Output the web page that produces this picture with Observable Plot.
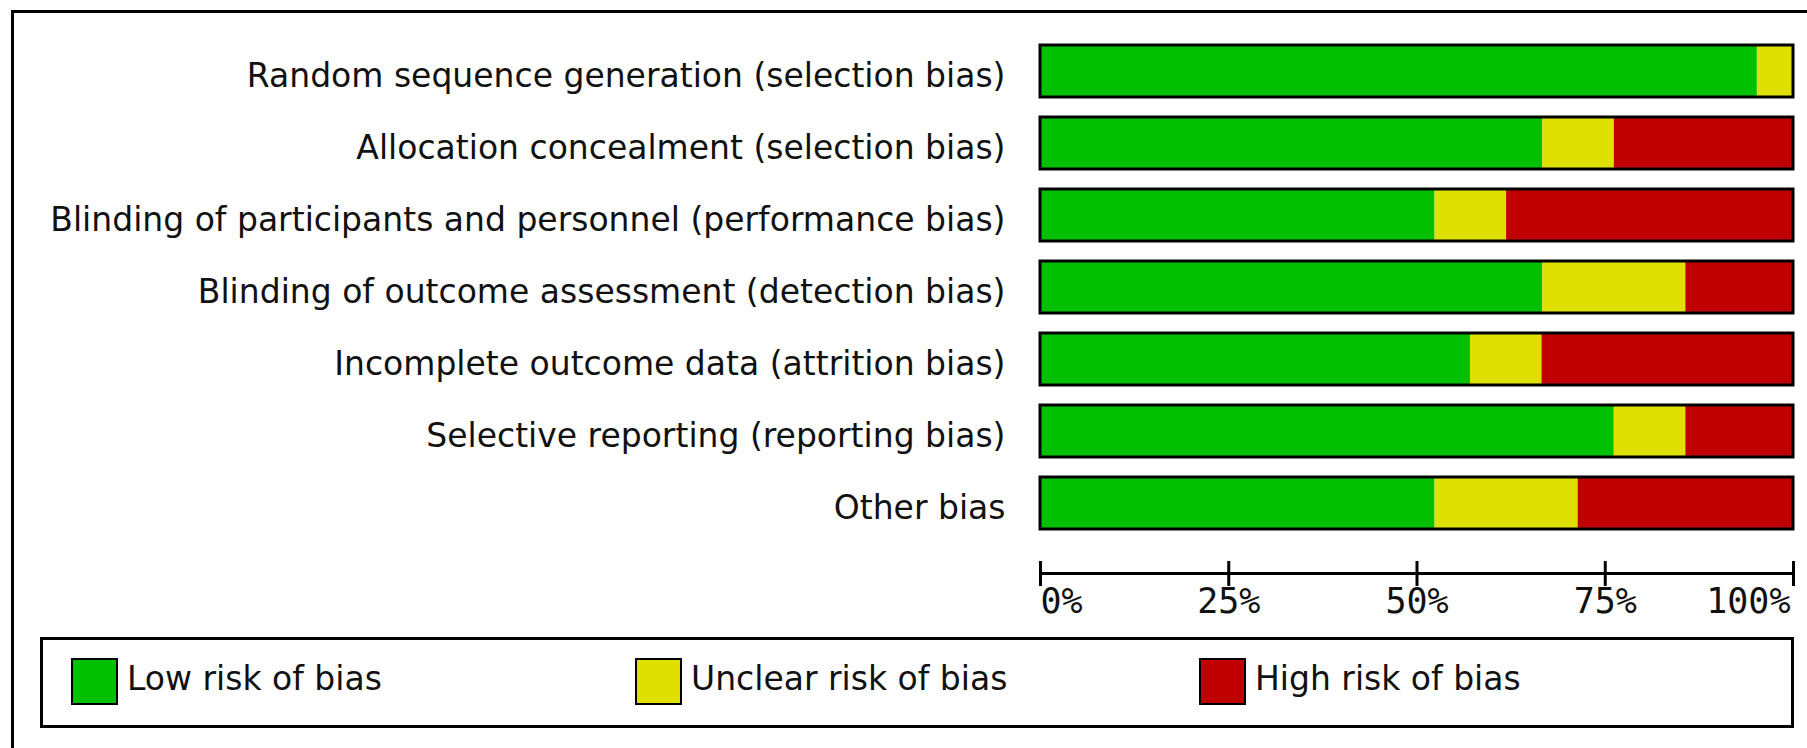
<!DOCTYPE html>
<html>
<head>
<meta charset="utf-8">
<script src="https://cdn.jsdelivr.net/npm/d3@7"></script>
<script src="https://cdn.jsdelivr.net/npm/@observablehq/plot@0.6"></script>
<style>
  body { margin: 0; background: white; }
  #fig { position: relative; width: 1807px; height: 748px; overflow: hidden; font-family: "DejaVu Sans", sans-serif; }
  #border { position: absolute; left: 11px; top: 10px; width: 1900px; height: 900px; border-top: 3px solid #000; border-left: 3px solid #000; }
  #chart { position: absolute; left: 0; top: 0; }
  #legend { position: absolute; left: 40px; top: 637px; width: 1748px; height: 85px; border: 3px solid #000; }
  .item { position: absolute; top: 18px; height: 47px; }
  .swatch { position: absolute; left: 0; top: 0; width: 43px; height: 43px; border: 2px solid #000; }
  .label { position: absolute; left: 56px; top: 2px; font-size: 33px; line-height: 38px; white-space: nowrap; color: #111; }
</style>
</head>
<body>
<div id="fig">
  <div id="border"></div>
  <div id="chart"></div>
  <div id="legend"></div>
</div>
<script>
const categories = [
  "Random sequence generation (selection bias)",
  "Allocation concealment (selection bias)",
  "Blinding of participants and personnel (performance bias)",
  "Blinding of outcome assessment (detection bias)",
  "Incomplete outcome data (attrition bias)",
  "Selective reporting (reporting bias)",
  "Other bias"
]
// % of studies per judgement
const lowRisk = [95.2, 66.7, 52.4, 66.7, 57.1, 76.2, 52.4]
const unclearRisk = [4.8, 9.5, 9.5, 19.0, 9.5, 9.5, 19.0]
const highRisk = [0, 23.8, 38.1, 14.3, 33.3, 14.3, 28.6]

const riskLabels = ["Low risk of bias", "Unclear risk of bias", "High risk of bias"]
const riskColors = ["#00c000", "#e0e000", "#c00000"]
const xTicks = [0, 25, 50, 75, 100]

/* filas largas para el stack */
const series = [lowRisk, unclearRisk, highRisk]
const rows = []
categories.forEach((c, i) => {
  series.forEach((s, j) => rows.push({dominio: c, riesgo: riskLabels[j], valor: s[i]}))
})

const tickFont = {fontFamily: "DejaVu Sans Mono", fontSize: 35, frameAnchor: "bottom", lineAnchor: "middle", dy: 28}

let chart = Plot.plot({
  width: 1807,
  height: 625,
  marginLeft: 1040,
  marginRight: 14,
  marginTop: 561,
  marginBottom: 52,
  style: {fontFamily: "DejaVu Sans", fontSize: "33px", background: "transparent", color: "#111", overflow: "visible"},
  x: {domain: [0, 100], axis: null},
  y: {domain: categories, range: [21.5, 552.5], padding: 0.274, axis: null},
  color: {domain: riskLabels, range: riskColors},
  marks: [
    Plot.barX(rows, {x: "valor", y: "dominio", fill: "riesgo"}),
    // contorno negro de cada barra
    Plot.barX(categories, {x1: 0, x2: 100, y: d => d, fill: "none", stroke: "#000", strokeWidth: 3}),
    Plot.axisY({tickSize: 0, tickPadding: 35, dy: 5, fontSize: 33, label: null}),
    // eje x: línea + ticks que la cruzan
    Plot.frame({anchor: "bottom", strokeWidth: 3, stroke: "#000"}),
    Plot.ruleX(xTicks, {x: d => d, stroke: "#000", strokeWidth: 3, insetBottom: -13}),
    Plot.text(xTicks, {...tickFont, x: d => d, text: d => d + "%", textAnchor: "start", filter: d => d === 0}),
    Plot.text(xTicks, {...tickFont, x: d => d, text: d => d + "%", filter: d => d > 0 && d < 100}),
    Plot.text(xTicks, {...tickFont, x: d => d, text: d => d + "%", textAnchor: "end", dx: -3, filter: d => d === 100}),
  ],
})

d3.select('#chart').append(() => chart)

/* leyenda */
const items = d3.select('#legend').selectAll('.item')
  .data(riskLabels)
  .join('div')
  .attr('class', 'item')
  .style('left', (d, i) => (28 + i * 564) + 'px')
items.append('div').attr('class', 'swatch').style('background', (d, i) => riskColors[i])
items.append('div').attr('class', 'label').text(d => d)
</script>
</body>
</html>
